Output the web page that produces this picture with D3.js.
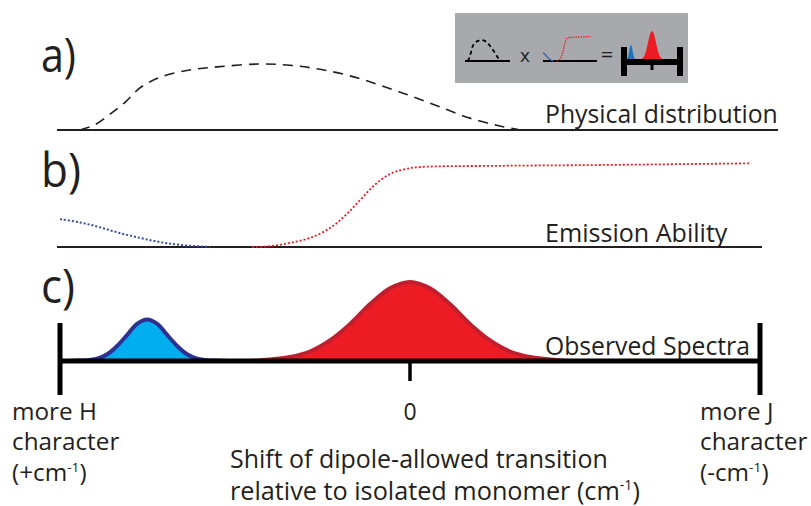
<!DOCTYPE html>
<html>
<head>
<meta charset="utf-8">
<script src="https://cdn.jsdelivr.net/npm/d3@7"></script>
<style>
    body { margin: 0; background: #fff; }
    text { font-family: "Open Sans", "Noto Sans", sans-serif; fill: #231f20; }
</style>
</head>
<body>
<div id="chart-div"></div>
<script>
// x is the shift in arbitrary units: -1 = more H, 0 = monomer, 1 = more J
// panel a) physical distribution (dashed)
const physical = [
    [-0.943, 0], [-0.9, 0.08], [-0.857, 0.24], [-0.814, 0.42], [-0.771, 0.64],
    [-0.714, 0.80], [-0.629, 0.91], [-0.543, 0.96], [-0.429, 1.0], [-0.343, 0.98],
    [-0.257, 0.92], [-0.171, 0.82], [-0.086, 0.68], [0, 0.52], [0.086, 0.35],
    [0.171, 0.18], [0.257, 0.06], [0.314, 0]
];
// panel b) emission ability, H side (blue) and J side (red)
const emissionH = [
    [-1, 0.34], [-0.943, 0.30], [-0.886, 0.24], [-0.829, 0.17], [-0.771, 0.11],
    [-0.714, 0.06], [-0.657, 0.025], [-0.571, 0]
];
const emissionJ = [
    [-0.451, 0], [-0.4, 0.01], [-0.343, 0.05], [-0.286, 0.11], [-0.229, 0.23],
    [-0.186, 0.38], [-0.143, 0.57], [-0.1, 0.76], [-0.057, 0.89], [-0.014, 0.95],
    [0.029, 0.975], [0.257, 0.99], [0.543, 1.0], [0.971, 1.02]
];
// panel c) observed spectra
const spectrumH = [
    [-0.98, 0], [-0.951, 0.005], [-0.922, 0.01], [-0.894, 0.03], [-0.865, 0.085],
    [-0.837, 0.19], [-0.808, 0.33], [-0.780, 0.47], [-0.751, 0.525], [-0.722, 0.47],
    [-0.694, 0.33], [-0.665, 0.19], [-0.637, 0.085], [-0.608, 0.03], [-0.580, 0.01],
    [-0.551, 0.005], [-0.52, 0]
];
const spectrumJ = [
    [-0.457, 0], [-0.4, 0.02], [-0.343, 0.05], [-0.286, 0.12], [-0.229, 0.26],
    [-0.171, 0.47], [-0.114, 0.72], [-0.057, 0.92], [0, 1], [0.057, 0.92],
    [0.114, 0.72], [0.171, 0.47], [0.229, 0.26], [0.286, 0.12], [0.343, 0.05],
    [0.4, 0.02], [0.457, 0]
];
const axisTicks = [-1, 0, 1];
const panelLabels = ["a)", "b)", "c)"];
const curveLabels = ["Physical distribution", "Emission Ability", "Observed Spectra"];
const leftLabel = ["more H", "character", "(+cm", "-1", ")"];
const rightLabel = ["more J", "character", "(-cm", "-1", ")"];
const zeroLabel = "0";
const xTitle = ["Shift of dipole-allowed transition", "relative to isolated monomer (cm", "-1", ")"];

const WIDTH = 811;
const HEIGHT = 506;
const RED = "#ed1c24";
const RED_DARK = "#be1e2d";
const BLUE = "#00aeef";
const BLUE_DARK = "#2e3192";
const FONT = 25;

let svg = d3.select("#chart-div")
    .append("svg")
    .attr("width", WIDTH)
    .attr("height", HEIGHT);

let xScale = d3.scaleLinear().domain([-1, 1]).range([60, 760]);
let yA = d3.scaleLinear().domain([0, 1]).range([130, 64]);
let yB = d3.scaleLinear().domain([0, 1]).range([247, 165]);
let yC = d3.scaleLinear().domain([0, 1]).range([361, 282]);

function lineFor(xs, ys) {
    return d3.line()
        .x(d => xs(d[0]))
        .y(d => ys(d[1]))
        .curve(d3.curveCatmullRom);
}
function areaFor(xs, ys) {
    return d3.area()
        .x(d => xs(d[0]))
        .y0(ys(0))
        .y1(d => ys(d[1]))
        .curve(d3.curveCatmullRom);
}

// squeeze a text block horizontally so it is as wide as in the figure
function fitBox(sel, x0, w) {
    let bw = sel.node().getBBox().width;
    let s = w / bw;
    sel.attr("transform", "translate(" + x0 + ",0) scale(" + s + ",1) translate(" + (-x0) + ",0)");
    return sel;
}

// panel labels
[[72, 35], [187, 40], [303, 34]].forEach((p, i) => {
    let t = svg.append("text")
        .attr("x", 41).attr("y", p[0])
        .attr("font-size", 48)
        .text(panelLabels[i]);
    fitBox(t, 41, p[1]);
});

// a) physical distribution
svg.append("line")
    .attr("x1", 57).attr("x2", 778)
    .attr("y1", yA(0)).attr("y2", yA(0))
    .attr("stroke", "#231f20").attr("stroke-width", 2);
svg.append("path")
    .datum(physical)
    .attr("d", lineFor(xScale, yA))
    .attr("fill", "none")
    .attr("stroke", "#231f20")
    .attr("stroke-width", 1.6)
    .attr("stroke-dasharray", "10,7");
fitBox(svg.append("text").attr("x", 545).attr("y", 123).attr("font-size", FONT).text(curveLabels[0]), 545, 233);

// b) emission ability
svg.append("line")
    .attr("x1", 57).attr("x2", 762)
    .attr("y1", yB(0)).attr("y2", yB(0))
    .attr("stroke", "#231f20").attr("stroke-width", 2);
svg.append("path")
    .datum(emissionH)
    .attr("d", lineFor(xScale, yB))
    .attr("fill", "none")
    .attr("stroke", "#3a4aa0")
    .attr("stroke-width", 2)
    .attr("stroke-dasharray", "2,2");
svg.append("path")
    .datum(emissionJ)
    .attr("d", lineFor(xScale, yB))
    .attr("fill", "none")
    .attr("stroke", RED)
    .attr("stroke-width", 1.8)
    .attr("stroke-dasharray", "2,2");
fitBox(svg.append("text").attr("x", 545).attr("y", 242).attr("font-size", FONT).text(curveLabels[1]), 545, 183);

// c) observed spectra
[[spectrumH, BLUE, BLUE_DARK], [spectrumJ, RED, RED_DARK]].forEach(s => {
    svg.append("path")
        .datum(s[0])
        .attr("d", areaFor(xScale, yC))
        .attr("fill", s[1]);
    svg.append("path")
        .datum(s[0])
        .attr("d", lineFor(xScale, yC))
        .attr("fill", "none")
        .attr("stroke", s[2])
        .attr("stroke-width", 4);
});
fitBox(svg.append("text").attr("x", 545).attr("y", 355).attr("font-size", FONT).text(curveLabels[2]), 545, 205);

svg.append("line")
    .attr("x1", xScale(-1)).attr("x2", xScale(1))
    .attr("y1", yC(0)).attr("y2", yC(0))
    .attr("stroke", "#000").attr("stroke-width", 5);
svg.selectAll(".tick-mark")
    .data(axisTicks)
    .enter()
    .append("line")
    .classed("tick-mark", true)
    .attr("x1", d => xScale(d)).attr("x2", d => xScale(d))
    .attr("y1", d => d === 0 ? yC(0) : 323)
    .attr("y2", d => d === 0 ? 381 : 395)
    .attr("stroke", "#000")
    .attr("stroke-width", d => d === 0 ? 3.5 : 5);

// tick labels under the axis
function stackedLabel(x, lines) {
    let t = svg.append("text").attr("font-size", 23);
    t.append("tspan").attr("x", x).attr("y", 420).text(lines[0]);
    t.append("tspan").attr("x", x).attr("y", 450).text(lines[1]);
    t.append("tspan").attr("x", x).attr("y", 481).text(lines[2]);
    t.append("tspan").attr("font-size", 13).attr("dy", -9).text(lines[3]);
    t.append("tspan").attr("dy", 9).text(lines[4]);
    return t;
}
fitBox(stackedLabel(12, leftLabel), 12, 108);
fitBox(stackedLabel(700, rightLabel), 700, 108);
svg.append("text")
    .attr("x", xScale(0)).attr("y", 420)
    .attr("font-size", 23)
    .attr("text-anchor", "middle")
    .text(zeroLabel);

fitBox(svg.append("text").attr("x", 230).attr("y", 468).attr("font-size", FONT).text(xTitle[0]), 230, 378);
let t2 = svg.append("text").attr("x", 230).attr("y", 500).attr("font-size", FONT);
t2.append("tspan").text(xTitle[1]);
t2.append("tspan").attr("font-size", 14).attr("dy", -10).text(xTitle[2]);
t2.append("tspan").attr("dy", 10).text(xTitle[3]);
fitBox(t2, 230, 410);

// inset: a) x b) = c)
let inset = svg.append("g");
inset.append("rect")
    .attr("x", 455).attr("y", 13)
    .attr("width", 233).attr("height", 70)
    .attr("fill", "#a7a9ac");

let miniXA = d3.scaleLinear().domain([-1, 1]).range([466, 520]);
let miniYA = d3.scaleLinear().domain([0, 1]).range([61, 40]);
inset.append("line")
    .attr("x1", 465).attr("x2", 510).attr("y1", 61).attr("y2", 61)
    .attr("stroke", "#000").attr("stroke-width", 2);
inset.append("path")
    .datum(physical)
    .attr("d", lineFor(miniXA, miniYA))
    .attr("fill", "none").attr("stroke", "#000")
    .attr("stroke-width", 1.8).attr("stroke-dasharray", "4,3");
inset.append("text")
    .attr("x", 525).attr("y", 62).attr("font-size", 19)
    .attr("text-anchor", "middle").text("x");

let miniXB = d3.scaleLinear().domain([-1, 1]).range([543, 592]);
let miniYB = d3.scaleLinear().domain([0, 1]).range([61, 37]);
inset.append("line")
    .attr("x1", 543).attr("x2", 597).attr("y1", 61).attr("y2", 61)
    .attr("stroke", "#000").attr("stroke-width", 2);
inset.append("path")
    .datum(emissionH)
    .attr("d", lineFor(miniXB, miniYB))
    .attr("fill", "none").attr("stroke", "#2e5fb0").attr("stroke-width", 1.3);
inset.append("path")
    .datum(emissionJ)
    .attr("d", lineFor(miniXB, miniYB))
    .attr("fill", "none").attr("stroke", RED)
    .attr("stroke-width", 1.2).attr("stroke-dasharray", "1.5,1");
inset.append("text")
    .attr("x", 607).attr("y", 62).attr("font-size", 22)
    .attr("text-anchor", "middle").text("=");

let miniXC = d3.scaleLinear().domain([-1, 1]).range([624, 680]);
let miniYC = d3.scaleLinear().domain([0, 1]).range([60, 31]);
[[spectrumH, "#1c75bc"], [spectrumJ, RED]].forEach(s => {
    inset.append("path")
        .datum(s[0])
        .attr("d", areaFor(miniXC, miniYC))
        .attr("fill", s[1]);
});
inset.append("line")
    .attr("x1", 624).attr("x2", 680).attr("y1", 62).attr("y2", 62)
    .attr("stroke", "#000").attr("stroke-width", 6);
inset.selectAll(".mini-tick")
    .data(axisTicks)
    .enter()
    .append("line")
    .classed("mini-tick", true)
    .attr("x1", d => miniXC(d)).attr("x2", d => miniXC(d))
    .attr("y1", d => d === 0 ? 62 : 47)
    .attr("y2", d => d === 0 ? 70 : 76)
    .attr("stroke", "#000")
    .attr("stroke-width", d => d === 0 ? 3 : 6);
</script>
</body>
</html>
